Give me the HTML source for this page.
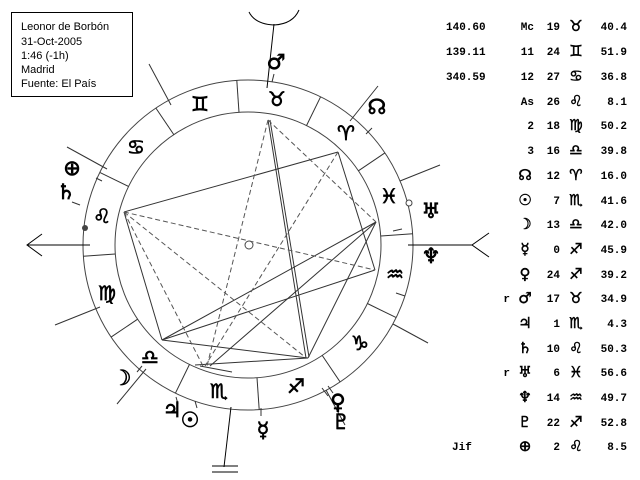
<!DOCTYPE html>
<html><head><meta charset="utf-8">
<style>
html,body{margin:0;padding:0;background:#fff;width:640px;height:480px;overflow:hidden}
svg{display:block}
.g{font-family:"DejaVu Sans",sans-serif;fill:#000;stroke:#000;stroke-width:0.7;text-anchor:middle;dominant-baseline:central}
.t{font-family:"Liberation Mono","DejaVu Sans Mono",monospace;font-weight:bold;font-size:11px;fill:#000}
.tg{font-family:"DejaVu Sans",sans-serif;font-size:15px;fill:#000;stroke:#000;stroke-width:0.5;text-anchor:middle}
</style></head>
<body>
<svg width="640" height="480" viewBox="0 0 640 480" xmlns="http://www.w3.org/2000/svg">
<rect x="11.5" y="12.5" width="121" height="84" fill="#fff" stroke="#000"/>
<g font-family="'Liberation Sans','DejaVu Sans',sans-serif" font-size="11" fill="#000">
<text x="21" y="30">Leonor de Borbón</text>
<text x="21" y="45">31-Oct-2005</text>
<text x="21" y="59">1:46 (-1h)</text>
<text x="21" y="73">Madrid</text>
<text x="21" y="87">Fuente: El País</text>
</g>
<g fill="none" stroke="#444" stroke-width="1">
<circle cx="248" cy="245" r="165"/>
<circle cx="248" cy="245" r="133"/>
<circle cx="249" cy="245" r="4"/>
</g>
<g stroke="#333" stroke-width="1">
<line x1="358.4" y1="170.8" x2="384.9" y2="152.9"/>
<line x1="306.5" y1="125.6" x2="320.6" y2="96.8"/>
<line x1="239.0" y1="112.3" x2="236.8" y2="80.3"/>
<line x1="173.8" y1="134.6" x2="155.9" y2="108.1"/>
<line x1="128.6" y1="186.5" x2="99.8" y2="172.4"/>
<line x1="115.3" y1="254.0" x2="83.3" y2="256.2"/>
<line x1="137.6" y1="319.2" x2="111.1" y2="337.1"/>
<line x1="189.5" y1="364.4" x2="175.4" y2="393.2"/>
<line x1="257.0" y1="377.7" x2="259.2" y2="409.7"/>
<line x1="322.2" y1="355.4" x2="340.1" y2="381.9"/>
<line x1="367.4" y1="303.5" x2="396.2" y2="317.6"/>
<line x1="380.7" y1="236.0" x2="412.7" y2="233.8"/>
</g>
<g stroke="#333" stroke-width="1">
<line x1="171" y1="105" x2="149" y2="64"/>
<line x1="107" y1="169" x2="67" y2="147"/>
<line x1="100" y1="307" x2="55" y2="325"/>
<line x1="146" y1="369" x2="117" y2="404"/>
<line x1="326" y1="390" x2="345" y2="425"/>
<line x1="393" y1="324" x2="428" y2="343"/>
<line x1="400" y1="181" x2="440" y2="165"/>
<line x1="350" y1="121" x2="378" y2="86"/>
</g>
<g stroke="#000" stroke-width="1" fill="none">
<line x1="27" y1="245" x2="90" y2="245"/>
<polyline points="42,234 27,245 42,256"/>
<line x1="408" y1="245" x2="472" y2="245"/>
<polyline points="489,233 472,245 489,257"/>
<line x1="267" y1="88" x2="274" y2="24"/>
<path d="M249,12 Q255,24 274,25 Q293,24 299,10"/>
<line x1="231" y1="407" x2="224" y2="467"/>
<line x1="212" y1="466" x2="238" y2="466"/>
<line x1="212" y1="472" x2="238" y2="472"/>
</g>
<g stroke="#333">
<line x1="272" y1="82" x2="274" y2="74"/>
<line x1="72" y1="202" x2="80" y2="205"/>
<line x1="96" y1="178" x2="102" y2="181"/>
<line x1="393" y1="231" x2="402" y2="229"/>
<line x1="396" y1="293" x2="405" y2="296"/>
<line x1="176" y1="397" x2="178" y2="404"/>
<line x1="195" y1="401" x2="197" y2="408"/>
<line x1="261" y1="408" x2="261" y2="416"/>
<line x1="322" y1="388" x2="328" y2="396"/>
<line x1="328" y1="386" x2="333" y2="393"/>
<line x1="142" y1="366" x2="137" y2="372"/>
<line x1="366" y1="134" x2="372" y2="128"/>
</g>
<circle cx="85" cy="228" r="3" fill="#444"/>
<circle cx="409" cy="203" r="3" fill="#fff" stroke="#444"/>
<g stroke="#333" stroke-width="1" fill="none">
<line x1="124" y1="212" x2="338" y2="152"/>
<line x1="338" y1="152" x2="375" y2="270"/>
<line x1="124" y1="212" x2="162" y2="340"/>
<line x1="162" y1="340" x2="376" y2="222"/>
<line x1="162" y1="340" x2="375" y2="270"/>
<line x1="162" y1="340" x2="308" y2="358"/>
<line x1="268" y1="120" x2="306" y2="358"/>
<line x1="270" y1="120" x2="309" y2="357"/>
<line x1="195" y1="365" x2="308" y2="358"/>
<line x1="376" y1="222" x2="308" y2="358"/>
<line x1="376" y1="222" x2="210" y2="366"/>
<line x1="200" y1="366" x2="232" y2="372"/>
</g>
<g stroke="#555" stroke-width="1" fill="none" stroke-dasharray="5,3">
<line x1="268" y1="120" x2="207" y2="366"/>
<line x1="268" y1="120" x2="376" y2="222"/>
<line x1="124" y1="212" x2="375" y2="270"/>
<line x1="124" y1="212" x2="203" y2="366"/>
<line x1="124" y1="212" x2="305" y2="357"/>
<line x1="338" y1="152" x2="205" y2="366"/>
</g>
<g class="g" font-size="20">
<text x="346" y="133">♈︎</text>
<text x="277" y="99">♉︎</text>
<text x="200" y="104">♊︎</text>
<text x="136" y="147">♋︎</text>
<text x="102" y="216">♌︎</text>
<text x="107" y="293">♍︎</text>
<text x="150" y="357">♎︎</text>
<text x="219" y="391">♏︎</text>
<text x="296" y="386">♐︎</text>
<text x="360" y="343">♑︎</text>
<text x="395" y="274">♒︎</text>
<text x="389" y="196">♓︎</text>
</g>
<g class="g" font-size="21">
<text x="276" y="62">♂︎</text>
<text x="377" y="107">☊︎</text>
<text x="72" y="168">⊕</text>
<text x="66" y="192">♄︎</text>
<text x="431" y="211">♅︎</text>
<text x="431" y="256">♆︎</text>
<text x="122" y="378">☽︎</text>
<text x="172" y="410">♃︎</text>
<text x="190" y="420">☉︎</text>
<text x="263" y="430">☿︎</text>
<text x="338" y="402">♀︎</text>
<text x="341" y="422">♇︎</text>
</g>
<text class="t" x="446" y="30">140.60</text>
<text class="t" x="446" y="55">139.11</text>
<text class="t" x="446" y="80">340.59</text>
<text class="t" x="452" y="450" font-size="8">Jif</text>
<g class="t" text-anchor="end">
<text x="534" y="30">Mc</text><text x="560" y="30">19</text><text x="627" y="30">40.4</text>
<text x="534" y="55">11</text><text x="560" y="55">24</text><text x="627" y="55">51.9</text>
<text x="534" y="80">12</text><text x="560" y="80">27</text><text x="627" y="80">36.8</text>
<text x="534" y="105">As</text><text x="560" y="105">26</text><text x="627" y="105">8.1</text>
<text x="534" y="129">2</text><text x="560" y="129">18</text><text x="627" y="129">50.2</text>
<text x="534" y="154">3</text><text x="560" y="154">16</text><text x="627" y="154">39.8</text>
<text x="560" y="179">12</text><text x="627" y="179">16.0</text>
<text x="560" y="204">7</text><text x="627" y="204">41.6</text>
<text x="560" y="228">13</text><text x="627" y="228">42.0</text>
<text x="560" y="253">0</text><text x="627" y="253">45.9</text>
<text x="560" y="278">24</text><text x="627" y="278">39.2</text>
<text x="510" y="302">r</text><text x="560" y="302">17</text><text x="627" y="302">34.9</text>
<text x="560" y="327">1</text><text x="627" y="327">4.3</text>
<text x="560" y="352">10</text><text x="627" y="352">50.3</text>
<text x="510" y="376">r</text><text x="560" y="376">6</text><text x="627" y="376">56.6</text>
<text x="560" y="401">14</text><text x="627" y="401">49.7</text>
<text x="560" y="426">22</text><text x="627" y="426">52.8</text>
<text x="560" y="450">2</text><text x="627" y="450">8.5</text>
</g>
<g class="tg">
<text x="576" y="31">♉︎</text>
<text x="576" y="56">♊︎</text>
<text x="576" y="81">♋︎</text>
<text x="576" y="106">♌︎</text>
<text x="576" y="130">♍︎</text>
<text x="576" y="155">♎︎</text>
<text x="576" y="180">♈︎</text>
<text x="576" y="205">♏︎</text>
<text x="576" y="229">♎︎</text>
<text x="576" y="254">♐︎</text>
<text x="576" y="279">♐︎</text>
<text x="576" y="303">♉︎</text>
<text x="576" y="328">♏︎</text>
<text x="576" y="353">♌︎</text>
<text x="576" y="377">♓︎</text>
<text x="576" y="402">♒︎</text>
<text x="576" y="427">♐︎</text>
<text x="576" y="451">♌︎</text>
<text x="525" y="180">☊︎</text>
<text x="525" y="205">☉︎</text>
<text x="525" y="229">☽︎</text>
<text x="525" y="254">☿︎</text>
<text x="525" y="279">♀︎</text>
<text x="525" y="303">♂︎</text>
<text x="525" y="328">♃︎</text>
<text x="525" y="353">♄︎</text>
<text x="525" y="377">♅︎</text>
<text x="525" y="402">♆︎</text>
<text x="525" y="427">♇︎</text>
<text x="525" y="451">⊕</text>
</g>
</svg>
</body></html>
